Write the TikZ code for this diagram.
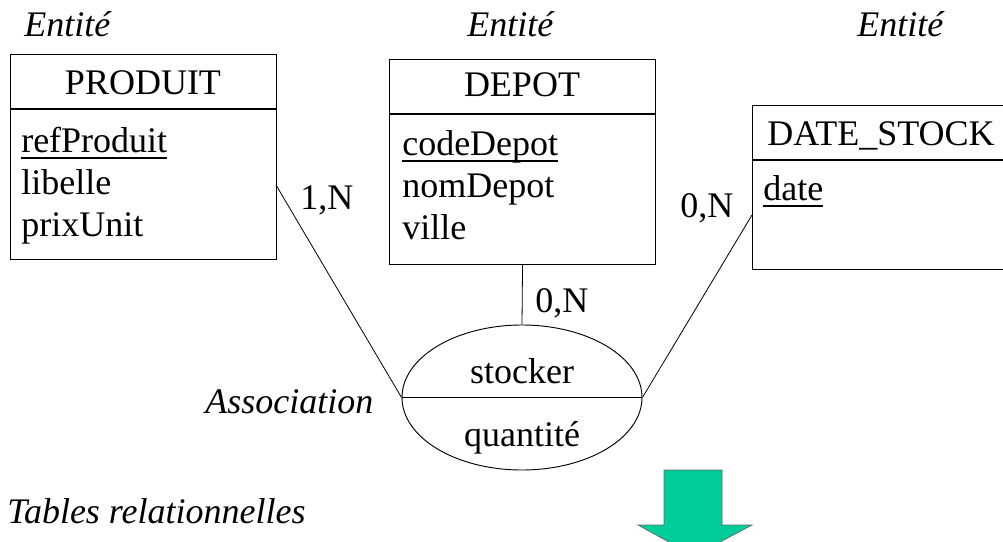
\documentclass[tikz,border=0pt]{standalone}
\usepackage{fontspec}
\setmainfont{Liberation Serif}
\usetikzlibrary{shapes.geometric}
\definecolor{fleche}{HTML}{00CC99}
\newcommand{\cle}[1]{\setbox0\hbox{#1}\rlap{\rule[-5.5pt]{\wd0}{1.6pt}}\box0}

\begin{document}
\begin{tikzpicture}[x=0.75pt,y=-0.75pt,
		every node/.style={inner sep=0pt, font=\fontsize{27}{31}\selectfont},
		entite/.style={draw, line width=0.8pt, anchor=north west, minimum width=199.5pt},
		attr/.style={anchor=base west},
		lien/.style={line width=0.6pt},
		note/.style={anchor=base west, font=\fontsize{27}{31}\selectfont\itshape}]
	\useasboundingbox (0,0) rectangle (1003,542);
	\clip (0,0) rectangle (1003,542);
	%PRODUIT
	\node [entite, minimum height=153.75pt] (produit) at (10,54) {};
	\draw [line width=0.8pt] (produit.north west) ++(0,55) -- ++(266,0);
	\node [anchor=base] at (143,94) {PRODUIT};
	\node [attr] at (21,152) {\cle{refProduit}};
	\node [attr] at (21,194) {libelle};
	\node [attr] at (21,236) {prixUnit};
	%DEPOT
	\node [entite, minimum height=153.75pt] (depot) at (389,59) {};
	\draw [line width=0.8pt] (depot.north west) ++(0,55) -- ++(266,0);
	\node [anchor=base] at (522,97) {DEPOT};
	\node [attr] at (402,155) {\cle{codeDepot}};
	\node [attr] at (402,197) {nomDepot};
	\node [attr] at (402,239) {ville};
	%DATE_STOCK (coupe a droite)
	\node [entite, minimum width=240pt, minimum height=123pt] (datestock) at (752,105) {};
	\draw [line width=0.8pt] (datestock.north west) ++(0,55) -- ++(320,0);
	\node [attr] at (767,145) {DATE\_STOCK};
	\node [attr] at (763,200) {\cle{date}};
	%association
	\node [draw, ellipse, line width=0.7pt, minimum width=180pt, minimum height=108.75pt] (stocker) at (522,397.5) {};
	\draw [lien] (stocker.west) -- (stocker.east);
	\node [anchor=base] at (522,383) {stocker};
	\node [anchor=base] at (522,446) {quantit\'e};
	%pattes
	\coordinate (p1) at (276,185);
	\coordinate (p3) at (752,215);
	\draw [lien] (p1) -- (stocker.west);
	\draw [lien] (depot.south) -- (stocker.north);
	\draw [lien] (p3) -- (stocker.east);
	%cardinalites
	\node [attr] at (300,209) {1,N};
	\node [attr] at (535,312) {0,N};
	\node [attr] at (680,217) {0,N};
	%labels
	\node [note] at (24,37) {Entit\'e};
	\node [note] at (467,37) {Entit\'e};
	\node [note] at (857,37) {Entit\'e};
	\node [note] at (205,413) {Association};
	\node [note] at (7,523) {Tables relationnelles};
	%fleche
	\filldraw [fill=fleche, draw=black!60, line width=0.5pt] (664,470) -- (722,470) -- (722,525) -- (752,525) -- (694,556) -- (638,525) -- (664,525) -- cycle;
\end{tikzpicture}
\end{document}
